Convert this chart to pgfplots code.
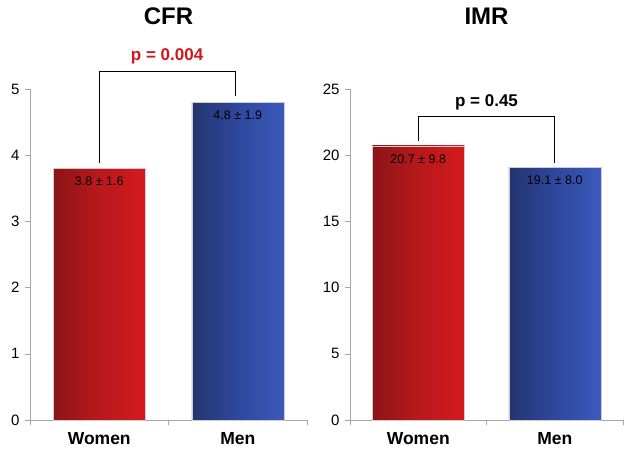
\documentclass[border=0pt]{standalone}
\usepackage{pgfplots}
\pgfplotsset{compat=1.18}
\usepackage{fontspec}
\setmainfont{Liberation Sans}
\definecolor{reddark}{HTML}{8C1417}
\definecolor{redmid}{HTML}{B8191C}
\definecolor{redlight}{HTML}{D41A1E}
\definecolor{bluedark}{HTML}{24356F}
\definecolor{bluemid}{HTML}{2F479C}
\definecolor{bluelight}{HTML}{3C5ABC}
\definecolor{axgray}{HTML}{A6A6A6}
\definecolor{pred}{HTML}{D0171C}
\pgfplotsset{mystyle/.style={
  scale only axis, height=331pt,
  clip=false,
  xmin=-0.5, xmax=1.5, ymin=0,
  axis x line*=bottom, axis y line*=left,
  x axis line style={-, draw=axgray}, y axis line style={-, draw=axgray},
  tick style={draw=axgray, thin},
  major tick length=5pt, tick align=outside,
  xtick={-0.5,0.5,1.5}, xticklabels={},
  extra x ticks={0,1}, extra x tick labels={Women,Men},
  extra x tick style={major tick length=0pt, xticklabel style={font=\fontsize{17.5}{19}\selectfont\bfseries, yshift=-9pt}},
  yticklabel style={font=\fontsize{15}{17}\selectfont, xshift=-2pt},
  /pgf/number format/assume math mode=true,
  title style={font=\fontsize{24}{26}\selectfont\bfseries, at={(0.5,1)}, anchor=base, yshift=58pt},
  nodes near coords style={font=\fontsize{12.5}{14}\selectfont, anchor=north, yshift=-5pt},
}}
\begin{document}
\begin{tikzpicture}
\useasboundingbox (0,0) rectangle (632pt,454pt);
\begin{axis}[mystyle, width=277pt, at={(30pt,34pt)}, anchor=south west,
  ymax=5, ytick={0,1,2,3,4,5}, title={CFR}]
\addplot[ybar, bar width=92pt, bar shift=0pt, left color=reddark, right color=redlight, middle color=redmid, draw=gray!40,
  point meta=explicit symbolic, nodes near coords] coordinates {(0,3.8) [3.8 ± 1.6]};
\addplot[ybar, bar width=92pt, bar shift=0pt, left color=bluedark, right color=bluelight, middle color=bluemid, draw=gray!40,
  point meta=explicit symbolic, nodes near coords] coordinates {(1,4.8) [4.8 ± 1.9]};
\addplot[black, line width=0.8pt, mark=none] coordinates {(0,3.88) (0,5.27) (0.985,5.27) (0.985,4.89)};
\node[font=\fontsize{17}{19}\selectfont\bfseries, text=pred] at (axis cs:0.49,5.49) {p = 0.004};
\end{axis}
\begin{axis}[mystyle, width=273pt, at={(350pt,34pt)}, anchor=south west,
  ymax=25, ytick={0,5,10,15,20,25}, title={IMR}]
\addplot[ybar, bar width=92pt, bar shift=0pt, left color=reddark, right color=redlight, middle color=redmid, draw=gray!40,
  point meta=explicit symbolic, nodes near coords] coordinates {(0,20.7) [20.7 ± 9.8]};
\addplot[ybar, bar width=92pt, bar shift=0pt, left color=bluedark, right color=bluelight, middle color=bluemid, draw=gray!40,
  point meta=explicit symbolic, nodes near coords] coordinates {(1,19.1) [19.1 ± 8.0]};
\addplot[black, line width=0.8pt, mark=none] coordinates {(0,21.07) (0,22.96) (1.0,22.96) (1.0,19.4)};
\node[font=\fontsize{17}{19}\selectfont\bfseries] at (axis cs:0.5,24.0) {p = 0.45};
\end{axis}
\end{tikzpicture}
\end{document}
